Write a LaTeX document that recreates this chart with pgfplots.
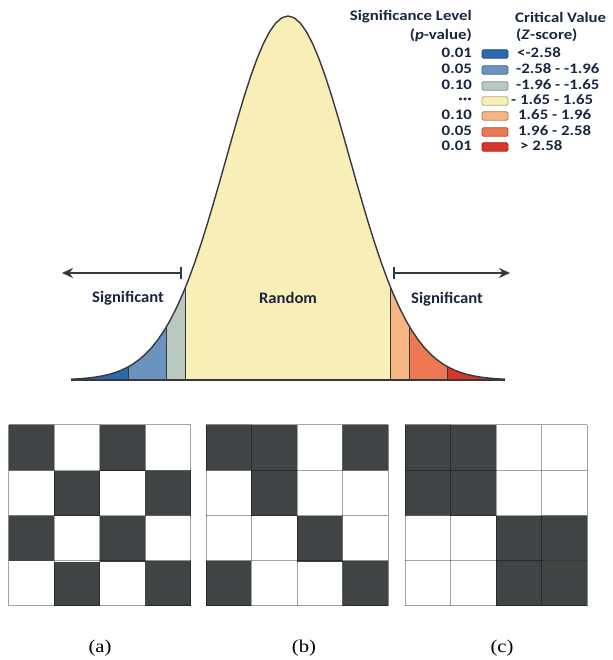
\documentclass[border=0pt]{standalone}
\usepackage{fontspec}
\setmainfont{Carlito}
\newfontfamily\timesfont{Liberation Serif}
\usepackage{graphicx}
\usepackage{pgfplots}
\usepackage{pgfplotstable}
\pgfplotsset{compat=1.18}
\usetikzlibrary{arrows.meta}

\definecolor{cDB}{RGB}{42,106,176}
\definecolor{cMB}{RGB}{106,148,190}
\definecolor{cGG}{RGB}{186,201,192}
\definecolor{cYE}{RGB}{248,238,184}
\definecolor{cLO}{RGB}{248,181,132}
\definecolor{cOR}{RGB}{238,120,82}
\definecolor{cRE}{RGB}{218,54,40}
\definecolor{txt}{RGB}{26,38,62}
\definecolor{lineg}{RGB}{55,57,60}

\pgfplotsset{colormap={bw}{rgb255=(255,255,255) rgb255=(64,68,68)}}

\pgfplotstableread{
z f
-3.5 0.0022
-3.4 0.0031
-3.3 0.0043
-3.2 0.0060
-3.1 0.0082
-3.0 0.0111
-2.9 0.0149
-2.8 0.0198
-2.7 0.0261
-2.6 0.0340
-2.58 0.0359
-2.5 0.0439
-2.4 0.0561
-2.3 0.0710
-2.2 0.0889
-2.1 0.1103
-2.0 0.1353
-1.96 0.1465
-1.9 0.1645
-1.8 0.1979
-1.7 0.2357
-1.65 0.2563
-1.6 0.2780
-1.5 0.3247
-1.4 0.3753
-1.3 0.4296
-1.2 0.4868
-1.1 0.5461
-1.0 0.6065
-0.9 0.6670
-0.8 0.7261
-0.7 0.7827
-0.6 0.8353
-0.5 0.8825
-0.4 0.9231
-0.3 0.9560
-0.2 0.9802
-0.1 0.9950
0.0 1.0000
0.1 0.9950
0.2 0.9802
0.3 0.9560
0.4 0.9231
0.5 0.8825
0.6 0.8353
0.7 0.7827
0.8 0.7261
0.9 0.6670
1.0 0.6065
1.1 0.5461
1.2 0.4868
1.3 0.4296
1.4 0.3753
1.5 0.3247
1.6 0.2780
1.65 0.2563
1.7 0.2357
1.8 0.1979
1.9 0.1645
1.96 0.1465
2.0 0.1353
2.1 0.1103
2.2 0.0889
2.3 0.0710
2.4 0.0561
2.5 0.0439
2.58 0.0359
2.6 0.0340
2.7 0.0261
2.8 0.0198
2.9 0.0149
3.0 0.0111
3.1 0.0082
3.2 0.0060
3.3 0.0043
3.4 0.0031
3.5 0.0022
}\curvetable

\pgfplotstableread{
x y c
0 0 0
1 0 1
2 0 0
3 0 1
0 1 1
1 1 0
2 1 1
3 1 0
0 2 0
1 2 1
2 2 0
3 2 1
0 3 1
1 3 0
2 3 1
3 3 0
}\gridA

\pgfplotstableread{
x y c
0 0 1
1 0 0
2 0 0
3 0 1
0 1 0
1 1 0
2 1 1
3 1 0
0 2 0
1 2 1
2 2 0
3 2 0
0 3 1
1 3 1
2 3 0
3 3 1
}\gridB

\pgfplotstableread{
x y c
0 0 0
1 0 0
2 0 1
3 0 1
0 1 0
1 1 0
2 1 1
3 1 1
0 2 1
1 2 1
2 2 0
3 2 0
0 3 1
1 3 1
2 3 0
3 3 0
}\gridC

\pgfplotsset{
  gridaxis/.style={
    scale only axis, width=182pt, height=181pt,
    xmin=-0.5, xmax=3.5, ymin=-0.5, ymax=3.5,
    enlargelimits=false,
    xtick={-0.5,0.5,1.5,2.5,3.5}, ytick={-0.5,0.5,1.5,2.5,3.5},
    xticklabels={}, yticklabels={}, major tick length=0pt,
    grid=major, grid style={black, opacity=0.36, line width=1pt},
    axis line style={draw opacity=0},
    axis on top, colormap name=bw,
    point meta min=0, point meta max=1,
    anchor=south west,
  }
}

\newcommand\LT[1]{\scalebox{1.16}[1]{#1}}

\begin{document}
\begin{tikzpicture}
\useasboundingbox (0,0) rectangle (612pt,660pt);

% ---------------- normal curve ----------------
\begin{axis}[
  at={(71pt,280pt)}, anchor=south west,
  scale only axis, width=434pt, height=364pt,
  xmin=-3.5, xmax=3.5, ymin=0, ymax=1,
  hide axis, clip=false,
]
\addplot[fill=cDB, draw=none, restrict x to domain=-3.51:-2.579] table[x=z,y=f]{\curvetable} \closedcycle;
\addplot[fill=cMB, draw=none, restrict x to domain=-2.581:-1.959] table[x=z,y=f]{\curvetable} \closedcycle;
\addplot[fill=cGG, draw=none, restrict x to domain=-1.961:-1.649] table[x=z,y=f]{\curvetable} \closedcycle;
\addplot[fill=cYE, draw=none, restrict x to domain=-1.651:1.651] table[x=z,y=f]{\curvetable} \closedcycle;
\addplot[fill=cLO, draw=none, restrict x to domain=1.649:1.961] table[x=z,y=f]{\curvetable} \closedcycle;
\addplot[fill=cOR, draw=none, restrict x to domain=1.959:2.581] table[x=z,y=f]{\curvetable} \closedcycle;
\addplot[fill=cRE, draw=none, restrict x to domain=2.579:3.51] table[x=z,y=f]{\curvetable} \closedcycle;
\addplot[lineg, line width=1pt] coordinates {(-2.58,0) (-2.58,0.0359)};
\addplot[lineg, line width=1pt] coordinates {(-1.96,0) (-1.96,0.1465)};
\addplot[lineg, line width=1pt] coordinates {(-1.65,0) (-1.65,0.2563)};
\addplot[lineg, line width=1pt] coordinates {(1.65,0) (1.65,0.2563)};
\addplot[lineg, line width=1pt] coordinates {(1.96,0) (1.96,0.1465)};
\addplot[lineg, line width=1pt] coordinates {(2.58,0) (2.58,0.0359)};
\addplot[lineg, line width=1.4pt] table[x=z,y=f]{\curvetable};
\addplot[lineg, line width=1.4pt] coordinates {(-3.5,0) (3.5,0)};
\end{axis}

% arrows and labels
\draw[lineg, line width=2.2pt, -{Stealth[length=11pt,width=10pt]}] (181pt,387pt) -- (62pt,387pt);
\draw[lineg, line width=2pt] (181pt,381pt) -- (181pt,393pt);
\draw[lineg, line width=2.2pt, -{Stealth[length=11pt,width=10pt]}] (394pt,387pt) -- (510pt,387pt);
\draw[lineg, line width=2pt] (394pt,381pt) -- (394pt,393pt);

\begin{scope}[every node/.style={text=txt, font=\fontsize{16}{17}\selectfont\bfseries, inner sep=0pt}]
\node at (128pt,362pt) {\scalebox{1.04}[1]{Significant}};
\node at (447pt,361pt) {\scalebox{1.04}[1]{Significant}};
\node at (288pt,362pt) {\scalebox{1.04}[1]{Random}};
\end{scope}

% legend
\begin{scope}[every node/.style={text=txt, font=\fontsize{14.5}{15}\selectfont\bfseries, inner sep=0pt}]
\node[anchor=east] at (472pt,643pt) {\LT{Significance Level}};
\node[anchor=east] at (472pt,625pt) {\LT{(\textit{p}-value)}};
\node[anchor=west] at (515pt,643pt) {\LT{Critical Value}};
\node[anchor=west] at (516pt,625pt) {\LT{(\textit{Z}-score)}};
\node[anchor=east] at (472pt,607pt) {\LT{0.01}};
\node[anchor=east] at (472pt,591pt) {\LT{0.05}};
\node[anchor=east] at (472pt,575pt) {\LT{0.10}};
\node[anchor=east] at (472pt,559pt) {\LT{···}};
\node[anchor=east] at (472pt,545pt) {\LT{0.10}};
\node[anchor=east] at (472pt,529pt) {\LT{0.05}};
\node[anchor=east] at (472pt,514pt) {\LT{0.01}};
\node[anchor=west] at (517pt,607pt) {\LT{<-2.58}};
\node[anchor=west] at (516pt,591pt) {\LT{-2.58 - -1.96}};
\node[anchor=west] at (516pt,575pt) {\LT{-1.96 - -1.65}};
\node[anchor=west] at (511pt,560pt) {\LT{- 1.65 - 1.65}};
\node[anchor=west] at (518pt,545pt) {\LT{1.65 - 1.96}};
\node[anchor=west] at (518pt,529pt) {\LT{1.96 - 2.58}};
\node[anchor=west] at (520pt,514pt) {\LT{> 2.58}};
\end{scope}
\begin{scope}[every node/.style={minimum width=26pt, minimum height=8.5pt, inner sep=0pt, rounded corners=1.5pt, line width=0.8pt}]
\node[fill=cDB, draw=cDB!70!black] at (495pt,606pt) {};
\node[fill=cMB, draw=cMB!70!black] at (495pt,590pt) {};
\node[fill=cGG, draw=cGG!70!black] at (495pt,574pt) {};
\node[fill=cYE, draw=cYE!70!black] at (495pt,559pt) {};
\node[fill=cLO, draw=cLO!70!black] at (495pt,544pt) {};
\node[fill=cOR, draw=cOR!70!black] at (495pt,528pt) {};
\node[fill=cRE, draw=cRE!70!black] at (495pt,513pt) {};
\end{scope}

% ---------------- grids ----------------
\begin{axis}[gridaxis, at={(9pt,54pt)}]
\addplot[matrix plot*, mesh/cols=4, point meta=explicit] table[x=x,y=y,meta=c]{\gridA};
\end{axis}
\begin{axis}[gridaxis, at={(206pt,54pt)}]
\addplot[matrix plot*, mesh/cols=4, point meta=explicit] table[x=x,y=y,meta=c]{\gridB};
\end{axis}
\begin{axis}[gridaxis, at={(405pt,54pt)}]
\addplot[matrix plot*, mesh/cols=4, point meta=explicit] table[x=x,y=y,meta=c]{\gridC};
\end{axis}

\begin{scope}[every node/.style={font=\timesfont\fontsize{18}{19}\selectfont, inner sep=0pt}]
\node at (100pt,12pt) {\scalebox{1.15}[1]{(a)}};
\node at (304pt,12pt) {\scalebox{1.15}[1]{(b)}};
\node at (502pt,12pt) {\scalebox{1.15}[1]{(c)}};
\end{scope}
\end{tikzpicture}
\end{document}
